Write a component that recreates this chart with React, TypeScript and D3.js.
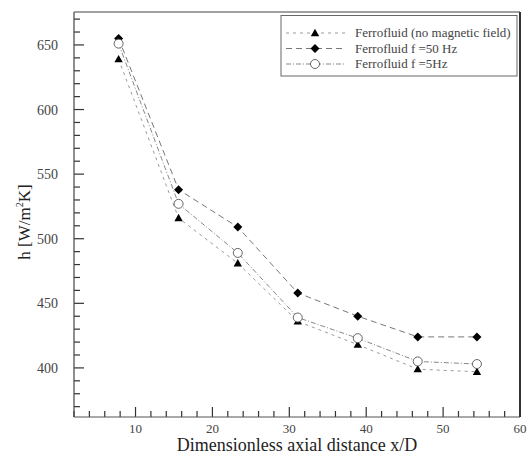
import React from "react";
import * as d3 from "d3";

const xValues = [7.8, 15.6, 23.3, 31.1, 38.9, 46.7, 54.4];
const noField = [639, 516, 481, 436, 418, 399, 397];
const f50 = [655, 538, 509, 458, 440, 424, 424];
const f5 = [651, 527, 489, 439, 423, 405, 403];
const seriesNames = ["Ferrofluid (no magnetic field)", "Ferrofluid f =50 Hz", "Ferrofluid f =5Hz"];
const xTicks = [10, 20, 30, 40, 50, 60];
const yTicks = [400, 450, 500, 550, 600, 650];

const W = 528, H = 455;
const L = 74, R = 520, T = 12, B = 417;
const FONT = "'Liberation Serif', 'Times New Roman', serif";

export default function App() {
  const x = d3.scaleLinear().domain([2, 60]).range([L, R]);
  const y = d3.scaleLinear().domain([362, 675.5]).range([B, T]);
  const line = d3.line<[number, number]>().x(d => x(d[0])).y(d => y(d[1]));
  const series = [
    { vals: noField, dash: "3,4", color: "#9a9a9a", marker: "tri" },
    { vals: f50, dash: "6,4", color: "#777", marker: "dia" },
    { vals: f5, dash: "5,2,1,2", color: "#888", marker: "circ" },
  ];
  const xt = d3.range(1, 31).map(i => i * 2);
  const yt = d3.range(37, 68).map(i => i * 10);

  const marker = (type: string, cx: number, cy: number, k: string) => {
    if (type === "tri") {
      const s = 4.2;
      return <path key={k} d={`M${cx},${cy - s}L${cx + s},${cy + s * 0.75}L${cx - s},${cy + s * 0.75}Z`} fill="#000" />;
    }
    if (type === "dia") {
      const s = 4.5;
      return <path key={k} d={`M${cx},${cy - s}L${cx + s},${cy}L${cx},${cy + s}L${cx - s},${cy}Z`} fill="#000" />;
    }
    return <circle key={k} cx={cx} cy={cy} r={4.5} fill="#fff" stroke="#555" strokeWidth={0.9} />;
  };

  return (
    <svg width={W} height={H} style={{ position: "absolute", left: 0, top: 0, background: "#fff" }} fontFamily={FONT}>
      <rect x={0} y={0} width={W} height={H} fill="#fff" />
      {/* ticks as thin rects */}
      {xt.map(v => {
        const len = v % 10 === 0 ? 10 : 6;
        return <rect key={"tx" + v} x={x(v) - 0.6} y={B - len} width={1.2} height={len} fill="#333" />;
      })}
      {yt.map(v => {
        const len = v % 50 === 0 ? 10 : 6;
        return <rect key={"ty" + v} x={L} y={y(v) - 0.6} width={len} height={1.2} fill="#333" />;
      })}
      {/* frame */}
      <line x1={L} x2={L} y1={T} y2={B} stroke="#444" strokeWidth={1.2} />
      <line x1={L} x2={R} y1={B} y2={B} stroke="#555" strokeWidth={1.2} />
      <line x1={L} x2={R} y1={T} y2={T} stroke="#444" strokeWidth={1.2} />
      <line x1={R} x2={R} y1={T} y2={B} stroke="#333" strokeWidth={2} />
      {/* tick labels */}
      {xTicks.map(v => (
        <text key={"xt" + v} x={x(v)} y={433} textAnchor="middle" fontSize={13} fill="#444">{v}</text>
      ))}
      {yTicks.map(v => (
        <text key={"yt" + v} x={L - 16} y={y(v) + 5} textAnchor="end" fontSize={14} fill="#444">{v}</text>
      ))}
      <text x={297} y={451} textAnchor="middle" fontSize={18} fill="#222">Dimensionless axial distance x/D</text>
      <text transform={`translate(30, 222) rotate(-90)`} textAnchor="middle" fontSize={17} fill="#222">
        h [W/m<tspan dy={-7} fontSize={10}>2</tspan><tspan dy={7}>K]</tspan>
      </text>
      {/* series */}
      {series.map((s, i) => (
        <g key={"s" + i}>
          <path d={line(xValues.map((xv, j) => [xv, s.vals[j]] as [number, number])) || ""} fill="none" stroke={s.color} strokeWidth={1} strokeDasharray={s.dash} />
          {xValues.map((xv, j) => marker(s.marker, x(xv), y(s.vals[j]), `m${i}-${j}`))}
        </g>
      ))}
      {/* legend */}
      <rect x={281} y={15.5} width={236} height={60.5} fill="#fff" stroke="#666" strokeWidth={1} />
      {series.map((s, i) => {
        const ly = 33 + i * 15.5;
        return (
          <g key={"lg" + i}>
            <line x1={286} x2={346} y1={ly} y2={ly} stroke={s.color} strokeWidth={1} strokeDasharray={s.dash} />
            {marker(s.marker, 315, ly, "lm" + i)}
            <text x={355} y={ly + 4} fontSize={13} fill="#444">{seriesNames[i]}</text>
          </g>
        );
      })}
    </svg>
  );
}
